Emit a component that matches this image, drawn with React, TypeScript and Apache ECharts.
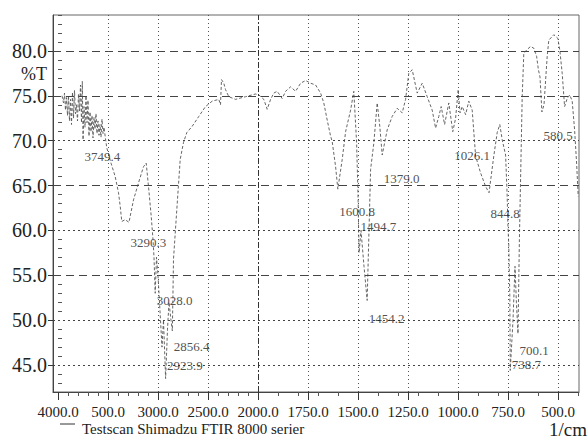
import React, { useEffect, useRef } from "react";
import * as echarts from "echarts";

// ---- data ----
const wavenumbers = [
  3960, 3945, 3935, 3925, 3915, 3905, 3895, 3885, 3875, 3865, 3855, 3845, 3835, 3825, 3815, 3805,
  3795, 3785, 3775, 3765, 3757, 3749.4, 3740, 3730, 3720, 3710, 3700, 3690, 3680, 3670, 3660, 3650,
  3640, 3630, 3620, 3610, 3600, 3590, 3580, 3570, 3560, 3550, 3540, 3525, 3512, 3470, 3428, 3395,
  3378, 3362, 3328, 3290.3, 3245, 3195, 3145, 3118, 3095, 3068, 3050, 3040, 3028, 3015, 3000, 2980,
  2960, 2945, 2923.9, 2905, 2890, 2870, 2856.4, 2845, 2812, 2778, 2745, 2712, 2658, 2592, 2525, 2458,
  2392, 2375, 2365, 2342, 2325, 2292, 2225, 2125, 2025, 1996, 1971, 1954, 1937, 1921, 1904, 1879,
  1862, 1837, 1812, 1787, 1762, 1737, 1712, 1687, 1671, 1654, 1637, 1629, 1612, 1600.8, 1579, 1562,
  1537, 1521, 1507, 1500, 1494.7, 1485, 1470, 1454.2, 1445, 1437, 1421, 1404, 1391, 1379, 1354, 1329,
  1304, 1279, 1262, 1246, 1229, 1204, 1179, 1154, 1129, 1112, 1096, 1084, 1067, 1046, 1026.1, 1012,
  999, 990, 979, 962, 946, 929, 912, 887, 862, 844.8, 821, 804, 791, 779, 762, 754,
  751, 746, 741, 738.7, 725, 715, 708, 700.1, 693, 679, 671, 657, 637, 621, 607, 598,
  590, 580.5, 570, 554, 546, 521, 501, 491, 479, 467, 454, 441, 429, 417, 407, 399,
];
const transmittance = [
  75.0, 74.2, 75.3, 73.4, 74.8, 72.8, 75.0, 72.2, 74.6, 71.8, 75.4, 72.5, 75.6, 73.0, 74.0, 72.2,
  75.2, 73.3, 76.2, 72.0, 76.6, 70.1, 73.8, 71.5, 75.0, 72.0, 74.5, 70.5, 73.2, 71.0, 72.8, 70.3,
  72.6, 71.3, 73.0, 70.8, 72.2, 70.6, 71.8, 70.4, 72.4, 70.8, 71.5, 70.2, 69.2, 67.5, 66.0, 64.2,
  62.7, 61.0, 61.2, 60.9, 63.4, 65.3, 67.1, 67.5, 64.9, 61.6, 59.0, 57.0, 53.0, 57.0, 55.0, 51.0,
  47.0, 50.0, 43.5, 49.0, 52.0, 50.0, 48.8, 56.8, 62.3, 67.9, 69.8, 70.9, 71.6, 72.7, 73.8, 74.4,
  74.6, 74.0, 76.8, 76.4, 75.7, 74.9, 74.6, 74.9, 75.2, 75.1, 74.6, 73.5, 74.6, 75.3, 75.5, 74.7,
  75.5, 76.0, 75.5, 76.4, 76.7, 76.4, 76.2, 75.3, 74.2, 72.3, 70.5, 69.9, 67.1, 64.6, 67.9, 71.0,
  73.4, 75.5, 69.8, 64.0, 57.5, 60.0, 56.0, 52.2, 60.0, 66.8, 69.7, 74.2, 71.6, 68.4, 71.2, 72.7,
  73.6, 73.1, 74.6, 77.5, 77.9, 75.3, 76.4, 74.9, 73.4, 71.4, 72.7, 73.8, 71.8, 74.2, 71.0, 72.5,
  75.7, 73.1, 73.8, 72.9, 74.4, 73.4, 68.3, 66.4, 64.9, 64.2, 68.3, 70.9, 71.8, 70.1, 68.4, 63.8,
  60.9, 58.3, 52.7, 44.4, 50.0, 56.0, 52.0, 48.5, 59.0, 74.9, 79.7, 80.1, 80.5, 80.3, 79.4, 77.9,
  77.1, 73.2, 74.0, 79.4, 81.2, 81.8, 81.4, 80.1, 77.5, 73.8, 74.7, 75.1, 74.4, 71.2, 67.5, 63.8,
];

const peakWavenumbers = [3749.4, 3290.3, 3028.0, 2856.4, 2923.9, 1600.8, 1494.7, 1454.2, 1379.0, 1026.1, 844.8, 700.1, 738.7, 580.5];
const peakLabelT = [68.2, 58.6, 52.2, 47.1, 45.0, 62.1, 60.4, 50.2, 65.8, 68.3, 61.9, 46.6, 45.1, 70.6];

const xTickWavenumbers = [4000, 3500, 3000, 2500, 2000, 1750, 1500, 1250, 1000, 750, 500];
const xTickLabels = ["4000.0", "500.0", "3000.0", "2500.0", "2000.0", "1750.0", "1500.0", "1250.0", "1000.0", "750.0", "500.0"];
const xMinorWavenumbers = [
  3900, 3800, 3700, 3600, 3400, 3300, 3200, 3100, 2900, 2800, 2700, 2600, 2400, 2300, 2200, 2100,
  1900, 1800, 1700, 1600, 1400, 1300, 1200, 1100, 900, 800, 700, 600, 400,
];
const yTickValues = [45, 50, 55, 60, 65, 70, 75, 80];
const yDashedLevels = [55, 65, 75, 80];

// piecewise FTIR abscissa: 10 cm-1 per unit above 2000, 5 cm-1 per unit below
const toU = (w: number) => (w >= 2000 ? (4000 - w) / 10 : 200 + (2000 - w) / 5);

const FONT = "'Liberation Serif', 'Times New Roman', Times, serif";

export default function App() {
  const ref = useRef<HTMLDivElement>(null);
  useEffect(() => {
    const chart = echarts.init(ref.current!, null, { renderer: "svg" });
    const tickU = xTickWavenumbers.map(toU);
    const minorU = xMinorWavenumbers.map(toU);
    const yMinor: number[] = [];
    for (let v = 43; v <= 84; v++) if (v % 5 !== 0) yMinor.push(v);

    const hLines = yTickValues.map((v) => ({
      yAxis: v,
      lineStyle: {
        color: "#444",
        width: 1,
        type: yDashedLevels.includes(v) ? [8, 5] : [2, 3],
      },
    }));
    const vLines = xTickWavenumbers
      .filter((w) => w !== 4000)
      .map((w) => ({
        xAxis: toU(w),
        lineStyle: {
          color: w === 2000 ? "#333" : "#555",
          width: 1,
          type: w === 2000 ? [6, 2, 2, 2] : [1, 3],
        },
      }));

    const option: any = {
      animation: false,
      backgroundColor: "#ffffff",
      grid: {
        left: 53,
        top: 15,
        width: 526,
        height: 377,
        show: true,
        borderColor: "#666",
        borderWidth: 1,
        backgroundColor: "transparent",
      },
      xAxis: [
        {
          type: "value",
          min: -5,
          max: 521,
          position: "bottom",
          axisLine: { show: true, onZero: false, lineStyle: { color: "#444", width: 1 } },
          axisTick: { show: true, customValues: tickU, length: 8, lineStyle: { color: "#333" } },
          axisLabel: {
            show: true,
            customValues: tickU,
            margin: 12,
            color: "#222",
            fontFamily: FONT,
            fontSize: 15,
            formatter: (v: number) => {
              const i = tickU.findIndex((t) => Math.abs(t - v) < 1e-6);
              return i >= 0 ? xTickLabels[i] : "";
            },
          },
          splitLine: { show: false },
        },
        {
          type: "value",
          min: -5,
          max: 521,
          position: "bottom",
          axisLine: { show: false },
          axisTick: { show: true, customValues: minorU, length: 4, lineStyle: { color: "#555" } },
          axisLabel: { show: false },
          splitLine: { show: false },
        },
      ],
      yAxis: [
        {
          type: "value",
          min: 42,
          max: 84,
          position: "left",
          axisLine: { show: true, onZero: false, lineStyle: { color: "#444", width: 1 } },
          axisTick: { show: true, customValues: yTickValues, length: 5, lineStyle: { color: "#333" } },
          axisLabel: {
            show: true,
            customValues: yTickValues,
            margin: 6,
            color: "#222",
            fontFamily: FONT,
            fontSize: 20,
            formatter: (v: number) => v.toFixed(1),
          },
          splitLine: { show: false },
        },
        {
          type: "value",
          min: 42,
          max: 84,
          position: "left",
          axisLine: { show: false },
          axisTick: { show: true, inside: true, customValues: yMinor, length: 4, lineStyle: { color: "#555" } },
          axisLabel: { show: false },
          splitLine: { show: false },
        },
      ],
      series: [
        {
          type: "line",
          xAxisIndex: 0,
          yAxisIndex: 0,
          data: wavenumbers.map((w, i) => [toU(w), transmittance[i]]),
          showSymbol: false,
          symbol: "none",
          smooth: false,
          lineStyle: { color: "#555", width: 0.9, type: [3, 2] },
          silent: true,
          markLine: {
            silent: true,
            symbol: ["none", "none"],
            label: { show: false },
            data: [...hLines, ...vLines],
          },
          z: 3,
        },
        {
          type: "scatter",
          xAxisIndex: 0,
          yAxisIndex: 0,
          symbolSize: 1,
          itemStyle: { color: "rgba(0,0,0,0)" },
          silent: true,
          data: peakWavenumbers.map((w, i) => ({ value: [toU(w), peakLabelT[i]], name: w.toFixed(1) })),
          label: {
            show: true,
            position: "right",
            distance: 1,
            color: "#222",
            fontFamily: FONT,
            fontSize: 13,
            formatter: (p: any) => p.name,
          },
          z: 5,
        },
      ],
      graphic: [
        {
          type: "text",
          x: 47,
          y: 74,
          style: {
            text: "%T",
            fill: "#222",
            font: `18px ${FONT}`,
            align: "right",
            verticalAlign: "middle",
          },
        },
        {
          type: "line",
          shape: { x1: 60, y1: 424, x2: 75, y2: 424 },
          style: { stroke: "#333", lineWidth: 1 },
        },
        {
          type: "text",
          x: 82,
          y: 429,
          style: {
            text: "Testscan Shimadzu FTIR 8000 serier",
            fill: "#222",
            font: `15px ${FONT}`,
            align: "left",
            verticalAlign: "middle",
          },
        },
        {
          type: "text",
          x: 587,
          y: 429.5,
          style: {
            text: "1/cm",
            fill: "#222",
            font: `19px ${FONT}`,
            align: "right",
            verticalAlign: "middle",
          },
        },
      ],
    };
    chart.setOption(option);
    return () => chart.dispose();
  }, []);
  return <div ref={ref} style={{ position: "absolute", left: 0, top: 0, width: 588, height: 439 }} />;
}
